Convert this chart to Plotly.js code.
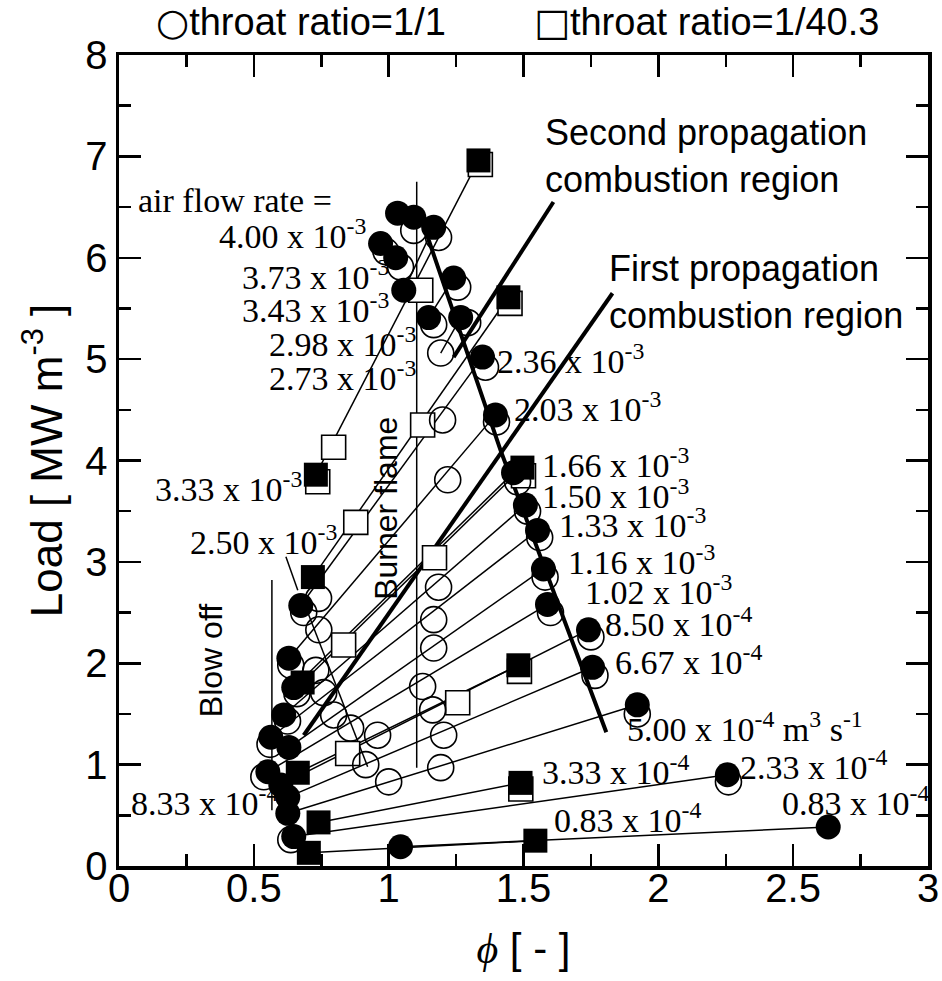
<!DOCTYPE html>
<html><head><meta charset="utf-8">
<script src="https://cdn.plot.ly/plotly-3.0.1.min.js"></script>
<style>body{margin:0;background:#fff}</style>
</head><body>
<div id="chart" style="width:942px;height:981px"></div>
<script>
// ---- throat ratio = 1/1 : one line per air flow rate (low-phi end -> high-phi end)
const circleFlow     = ['4.00e-3','3.73e-3','3.43e-3','2.98e-3','2.73e-3','2.36e-3','2.03e-3','1.66e-3','1.50e-3','1.33e-3','1.16e-3','1.02e-3','8.50e-4','6.67e-4','5.00e-4','2.33e-4','0.83e-4'];
const circlePhiLow   = [1.033,0.970,1.056,1.148,1.193,0.674,0.630,0.648,0.611,0.563,0.630,0.552,0.600,0.626,0.626,0.648,1.044];
const circleLoadLow  = [6.44,6.14,5.68,5.41,5.06,2.57,2.05,1.76,1.49,1.27,1.17,0.93,0.80,0.68,0.52,0.29,0.19];
const circlePhiHigh  = [1.093,1.026,1.167,1.241,1.267,1.348,1.396,1.463,1.507,1.552,1.574,1.589,1.741,1.756,1.922,2.256,2.630];
const circleLoadHigh = [6.40,6.00,6.30,5.80,5.41,5.02,4.45,3.88,3.56,3.31,2.93,2.58,2.33,1.96,1.59,0.90,0.385];

// filled circles
const filledCirclePhi  = [1.033,1.093,0.970,1.026,1.056,1.167,1.148,1.241,1.267,1.348,1.396,1.463,1.507,1.552,1.574,1.589,1.741,1.756,1.922,2.256,2.630,
                          0.674,0.630,0.648,0.611,0.563,0.630,0.552,0.600,0.626,0.626,0.648,1.044];
const filledCircleLoad = [6.44,6.40,6.14,6.00,5.68,6.30,5.41,5.80,5.41,5.02,4.45,3.88,3.56,3.31,2.93,2.58,2.33,1.96,1.59,0.90,0.385,
                          2.57,2.05,1.76,1.49,1.27,1.17,0.93,0.80,0.68,0.52,0.29,0.19];
// open circles (throat ratio 1/1)
const openCirclePhi  = [1.093,1.185,1.044,0.990,1.256,1.167,1.293,1.359,1.400,1.478,1.515,1.560,1.580,1.600,1.750,1.765,1.922,2.260,0.685,0.637,0.660,0.625,0.560,0.537,0.637,
                        1.193,1.200,1.219,1.185,1.167,1.167,1.126,1.163,0.959,1.204,0.915,1.193,1.000,0.741,0.730,0.759,0.796,0.859,0.740];
const openCircleLoad = [6.27,6.20,5.91,6.06,5.71,5.34,5.36,4.92,4.38,3.79,3.50,3.24,2.85,2.50,2.26,1.88,1.50,0.83,2.50,1.98,1.70,1.43,1.20,0.88,0.26,
                        5.06,4.40,3.81,2.75,2.43,2.15,1.77,1.54,1.29,1.29,1.00,0.97,0.83,2.33,1.93,1.71,1.49,1.36,2.64];

// ---- throat ratio = 1/40.3 : one line per air flow rate
const squareFlow     = ['3.33e-3','2.50e-3','1.66e-3','8.50e-4','3.33e-4','0.83e-4'];
const squarePhiLow   = [0.730,0.719,0.681,0.663,0.740,0.704];
const squareLoadLow  = [3.86,2.85,1.81,0.92,0.43,0.13];
const squarePhiHigh  = [1.333,1.444,1.496,1.481,1.489,1.544];
const squareLoadHigh = [6.96,5.61,3.93,1.98,0.82,0.25];
const openSquarePhi  = [0.796,1.119,0.878,1.126,0.833,1.170,0.848,1.256, 0.737,1.340,1.450,1.500,1.485,1.490];
const openSquareLoad = [4.13,5.68,3.39,4.35,2.18,3.04,1.11,1.61, 3.79,6.92,5.55,3.85,1.92,0.76];

// ---- guide lines
const burnerPhi = [1.104,1.104], burnerLoad = [0.97,6.75];
const blowPhi = [0.567,0.567], blowLoad = [2.82,0.55];
const slantPhi = [0.700,0.922], slantLoad = [2.50,0.98];
const leaderPhi = [0.619,0.663], leaderLoad = [3.05,2.72];
const limitPhi = [1.126,1.415,1.807], limitLoad = [6.35,4.10,1.32];
const secondPhi = [1.611,1.241], secondLoad = [6.55,5.02];
const firstPhi = [1.830,0.685], firstLoad = [5.65,1.29];

// ---- labels
const labelText = ['air flow rate =','4.00 x 10<sup>-3</sup>','3.73 x 10<sup>-3</sup>','3.43 x 10<sup>-3</sup>','2.98 x 10<sup>-3</sup>','2.73 x 10<sup>-3</sup>',
  '3.33 x 10<sup>-3</sup>','2.50 x 10<sup>-3</sup>','8.33 x 10<sup>-4</sup>',
  '2.36 x 10<sup>-3</sup>','2.03 x 10<sup>-3</sup>','1.66 x 10<sup>-3</sup>','1.50 x 10<sup>-3</sup>','1.33 x 10<sup>-3</sup>','1.16 x 10<sup>-3</sup>','1.02 x 10<sup>-3</sup>',
  '8.50 x 10<sup>-4</sup>','6.67 x 10<sup>-4</sup>','5.00 x 10<sup>-4</sup> m<sup>3</sup> s<sup>-1</sup>','3.33 x 10<sup>-4</sup>','2.33 x 10<sup>-4</sup>','0.83 x 10<sup>-4</sup>','0.83 x 10<sup>-4</sup>'];
const labelPhi  = [0.063,0.922,1.007,1.007,1.107,1.107,0.685,0.815,0.037,1.396,1.459,1.563,1.563,1.626,1.656,1.722,1.796,1.833,1.878,1.563,2.296,2.452,1.607];
const labelLoad = [6.56,6.23,5.83,5.50,5.17,4.83,3.74,3.22,0.64,5.00,4.53,3.98,3.67,3.38,3.02,2.72,2.41,2.03,1.37,0.95,1.00,0.64,0.47];
const labelAnchor = ['left','right','right','right','right','right','right','right','left','left','left','left','left','left','left','left','left','left','left','left','left','left','left'];

// ---- legend texts
const legendSymbol = ['○', '□'];
const legendText = ['throat ratio=1/1', 'throat ratio=1/40.3'];

const traces = [];
function segments(ax, ay, bx, by) {
  const x = [], y = [];
  for (let i = 0; i < ax.length; i++) { x.push(ax[i], bx[i], null); y.push(ay[i], by[i], null); }
  return {x, y};
}
const cl = segments(circlePhiLow, circleLoadLow, circlePhiHigh, circleLoadHigh);
traces.push({x: cl.x, y: cl.y, mode: 'lines', line: {color: 'black', width: 1.5}, hoverinfo: 'skip', name: 'throat 1/1 lines'});
const sl = segments(squarePhiLow, squareLoadLow, squarePhiHigh, squareLoadHigh);
traces.push({x: sl.x, y: sl.y, mode: 'lines', line: {color: 'black', width: 1.5}, hoverinfo: 'skip', name: 'throat 1/40.3 lines'});
[[burnerPhi, burnerLoad, 1.5], [blowPhi, blowLoad, 1.5], [slantPhi, slantLoad, 1.5], [leaderPhi, leaderLoad, 1.5],
 [limitPhi, limitLoad, 4], [secondPhi, secondLoad, 4], [firstPhi, firstLoad, 4]].forEach(g => {
  traces.push({x: g[0], y: g[1], mode: 'lines', line: {color: 'black', width: g[2]}, hoverinfo: 'skip'});
});
traces.push({x: openSquarePhi, y: openSquareLoad, mode: 'markers', name: 'throat ratio=1/40.3',
  marker: {symbol: 'square', size: 24, color: 'white', line: {color: 'black', width: 1.6}}});
traces.push({x: openCirclePhi, y: openCircleLoad, mode: 'markers', name: 'throat ratio=1/1',
  marker: {symbol: 'circle-open', size: 26, color: 'black', line: {color: 'black', width: 1.6}}});
traces.push({x: squarePhiLow.concat(squarePhiHigh), y: squareLoadLow.concat(squareLoadHigh), mode: 'markers',
  marker: {symbol: 'square', size: 24, color: 'black', line: {color: 'black', width: 0}}});
traces.push({x: filledCirclePhi, y: filledCircleLoad, mode: 'markers',
  marker: {symbol: 'circle', size: 25, color: 'black', line: {color: 'black', width: 0}}});

const annotations = labelText.map((t, i) => ({
  x: labelPhi[i], y: labelLoad[i], xref: 'x', yref: 'y', text: t, showarrow: false,
  xanchor: labelAnchor[i], yanchor: 'middle', font: {family: 'Liberation Serif, Times New Roman, serif', size: 34, color: 'black'}
}));
const sans = 'Liberation Sans, Arial, sans-serif';
annotations.push(
  {x: 1.574, y: 7.0, xref: 'x', yref: 'y', text: 'Second propagation<br>combustion region', align: 'left', showarrow: false, xanchor: 'left', yanchor: 'middle', font: {family: sans, size: 36, color: 'black'}},
  {x: 1.811, y: 5.66, xref: 'x', yref: 'y', text: 'First propagation<br>combustion region', align: 'left', showarrow: false, xanchor: 'left', yanchor: 'middle', font: {family: sans, size: 36, color: 'black'}},
  {x: 0.989, y: 3.53, xref: 'x', yref: 'y', text: 'Burner flame', textangle: -90, showarrow: false, xanchor: 'center', yanchor: 'middle', font: {family: sans, size: 32, color: 'black'}},
  {x: 0.341, y: 2.03, xref: 'x', yref: 'y', text: 'Blow off', textangle: -90, showarrow: false, xanchor: 'center', yanchor: 'middle', font: {family: sans, size: 32, color: 'black'}}
);
[0.043, 0.510].forEach((px, i) => annotations.push({
  x: px, y: 1.041, xref: 'paper', yref: 'paper', showarrow: false, xanchor: 'left', yanchor: 'middle',
  text: '<span style="font-family:DejaVu Sans">' + legendSymbol[i] + '</span>' + legendText[i],
  font: {family: sans, size: 38, color: 'black'}
}));

const axisCommon = {ticks: 'inside', tickwidth: 2.5, tickcolor: 'black', mirror: 'ticks', showline: true, linewidth: 3.5, linecolor: 'black',
  showgrid: false, zeroline: false, tickfont: {family: sans, size: 40, color: 'black'}};
const layout = {
  width: 942, height: 981, margin: {l: 119, r: 14, t: 55, b: 115},
  paper_bgcolor: 'white', plot_bgcolor: 'white', showlegend: false,
  font: {family: sans, color: 'black'},
  xaxis: Object.assign({}, axisCommon, {range: [0, 3], tick0: 0, dtick: 0.5, ticklen: 22, ticklabelstandoff: -16,
    minor: {dtick: 0.25, ticks: 'inside', ticklen: 12, tickwidth: 2.5, tickcolor: 'black', showgrid: false},
    title: {text: '<span style="font-family:Liberation Serif"><i>ϕ</i></span> [ - ]', font: {family: sans, size: 42, color: 'black'}, standoff: 26}}),
  yaxis: Object.assign({}, axisCommon, {range: [0, 8], tick0: 0, dtick: 1, ticklen: 22,
    minor: {dtick: 0.5, ticks: 'inside', ticklen: 12, tickwidth: 2.5, tickcolor: 'black', showgrid: false},
    title: {text: 'Load [ MW m<sup>-3</sup> ]', font: {family: sans, size: 44, color: 'black'}, standoff: 10}}),
  annotations: annotations
};
Plotly.newPlot('chart', traces, layout, {displayModeBar: false, staticPlot: true});
</script>
</body></html>
